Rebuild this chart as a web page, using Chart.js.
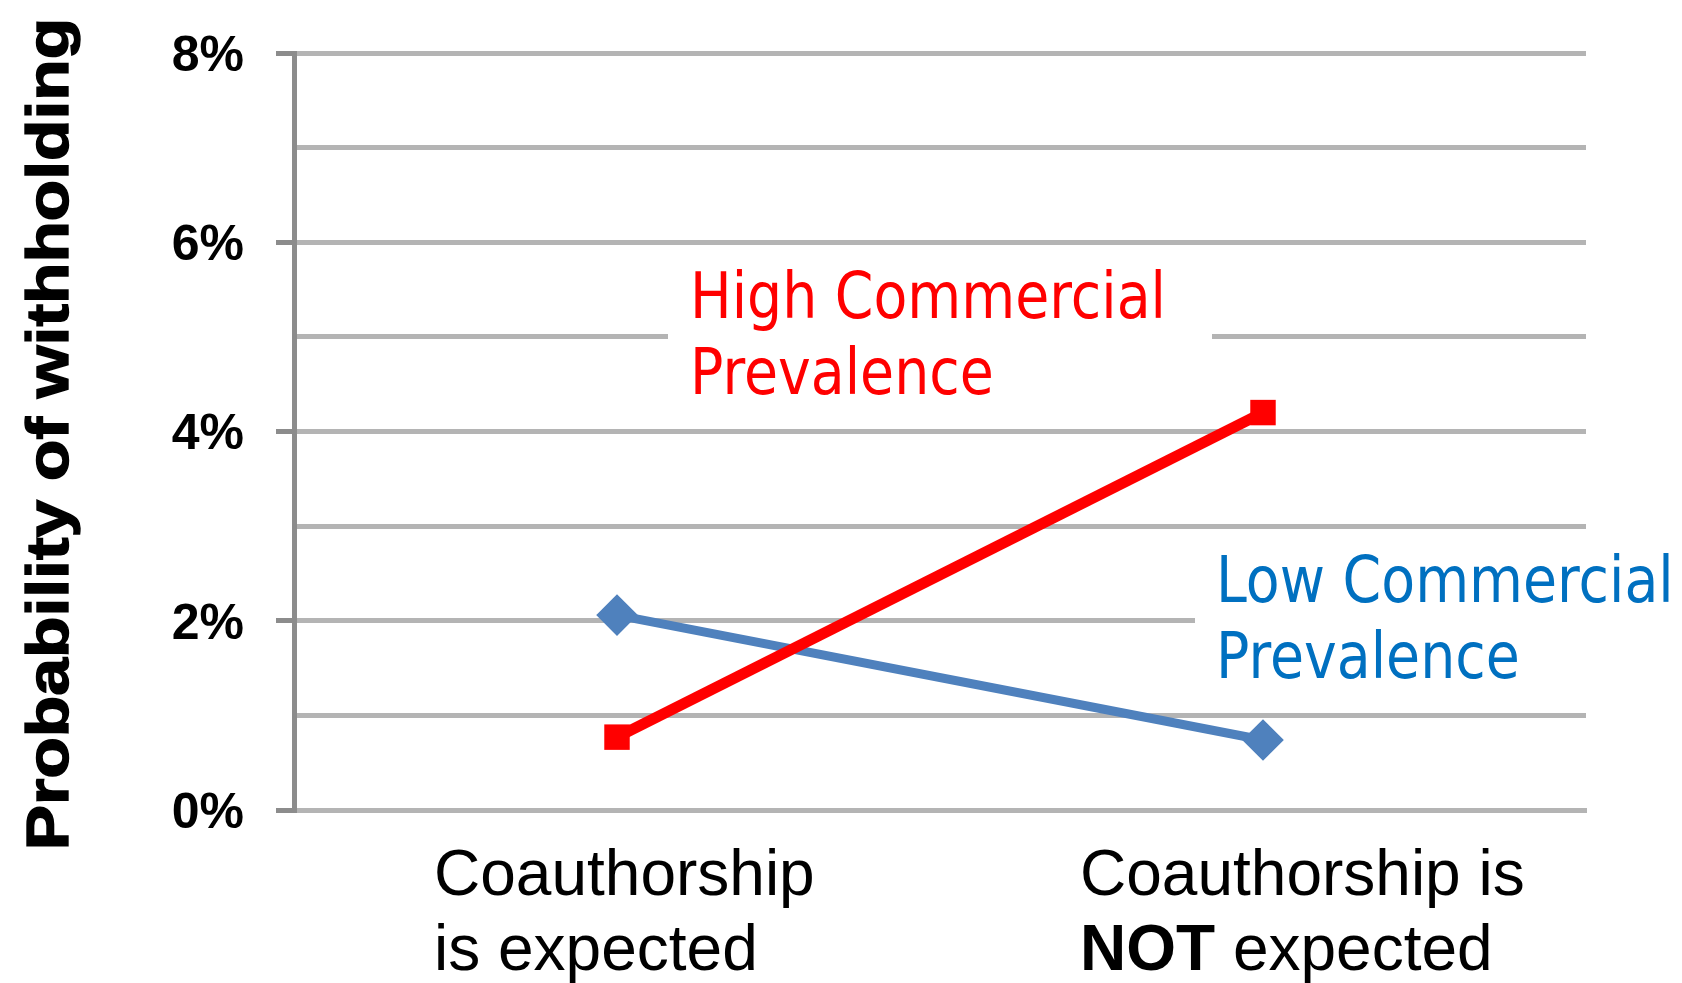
<!DOCTYPE html>
<html>
<head>
<meta charset="utf-8">
<script src="https://cdn.jsdelivr.net/npm/chart.js@4/dist/chart.umd.min.js"></script>
<style>
  html, body { margin: 0; padding: 0; background: #fff; }
  #wrap { width: 1682px; height: 983px; position: relative; }
</style>
</head>
<body>
<div id="wrap"><canvas id="withholdingChart"></canvas></div>
<script>
// categories, each split into the lines shown under the axis
const categories = ["Coauthorship is expected", "Coauthorship is NOT expected"];
const categoryLines = [["Coauthorship", "is expected"], ["Coauthorship is", "NOT expected"]];
const boldWords = ["NOT"];

// probability of withholding, in percent
const highCommercial = [0.77, 4.2];
const lowCommercial = [2.06, 0.74];

const yLabelValues = [0, 2, 4, 6, 8];
const yTitle = "Probability of withholding";
const highLabel = ["High Commercial", "Prevalence"];
const lowLabel = ["Low Commercial", "Prevalence"];

const GRID = "#b4b4b4";
const AXIS = "#8c8c8c";

// white boxes with the series names, painted over the grid
const seriesNotes = {
  id: "seriesNotes",
  beforeDatasetsDraw(chart) {
    const ctx = chart.ctx;
    ctx.save();
    ctx.fillStyle = "#ffffff";
    ctx.fillRect(668, 245, 544, 178);
    ctx.fillRect(1195, 529, 487, 177);
    ctx.restore();
  },
  afterDraw(chart) {
    const ctx = chart.ctx;
    const note = (lines, x, y, color) => {
      ctx.save();
      ctx.translate(x, y);
      ctx.scale(0.865, 1);
      ctx.font = '64px "DejaVu Sans"';
      ctx.fillStyle = color;
      ctx.textAlign = "left";
      ctx.textBaseline = "alphabetic";
      lines.forEach((line, i) => ctx.fillText(line, 0, i * 76));
      ctx.restore();
    };
    note(highLabel, 690, 318, "#ff0000");
    note(lowLabel, 1216, 602, "#0070c0");

    // y title, stretched along its length
    ctx.save();
    ctx.translate(68, 434);
    ctx.rotate(-Math.PI / 2);
    ctx.scale(1.13, 1);
    ctx.font = 'bold 60px "Liberation Sans"';
    ctx.fillStyle = "#000";
    ctx.strokeStyle = "#000";
    ctx.lineWidth = 1.4;
    ctx.textAlign = "center";
    ctx.textBaseline = "alphabetic";
    ctx.fillText(yTitle, 0, 0);
    ctx.strokeText(yTitle, 0, 0);
    ctx.restore();
  },
};

// category labels: left-aligned lines, some words in bold
const categoryText = {
  id: "categoryText",
  afterDraw(chart) {
    const ctx = chart.ctx;
    const xScale = chart.scales.x;
    ctx.save();
    ctx.fillStyle = "#000";
    ctx.textBaseline = "alphabetic";
    ctx.textAlign = "left";
    categoryLines.forEach((lines, i) => {
      const left = xScale.getPixelForValue(i) - 183;
      lines.forEach((line, j) => {
        let x = left;
        const y = 895 + j * 75;
        line.split(" ").forEach((word, k, words) => {
          const bold = boldWords.includes(word);
          ctx.font = (bold ? "bold " : "") + '64px "Liberation Sans"';
          const text = k < words.length - 1 ? word + " " : word;
          ctx.fillText(text, x, y);
          x += ctx.measureText(text).width;
        });
      });
    });
    ctx.restore();
  },
};

const ctx = document.getElementById("withholdingChart").getContext("2d");

new Chart(ctx, {
  type: "line",
  data: {
    labels: categories,
    datasets: [
      {
        label: highLabel.join(" "),
        data: highCommercial,
        borderColor: "#ff0000",
        backgroundColor: "#ff0000",
        borderWidth: 11,
        pointStyle: "rect",
        pointRadius: 18,
        pointBorderWidth: 0,
        pointBackgroundColor: "#ff0000",
        tension: 0,
      },
      {
        label: lowLabel.join(" "),
        data: lowCommercial,
        borderColor: "#4f81bd",
        backgroundColor: "#4f81bd",
        borderWidth: 9,
        pointStyle: "rectRot",
        pointRadius: 18,
        pointBorderWidth: 4,
        pointBorderColor: "#4f81bd",
        pointBackgroundColor: "#4f81bd",
        tension: 0,
      },
    ],
  },
  options: {
    responsive: true,
    maintainAspectRatio: false,
    animation: false,
    layout: {
      padding: { left: 0, top: 53, right: 96, bottom: 0 },
    },
    plugins: {
      legend: { display: false },
      tooltip: { enabled: false },
    },
    scales: {
      x: {
        offset: true,
        afterFit: (scale) => {
          scale.height = 173;
        },
        grid: { display: false },
        border: { color: GRID, width: 5 },
        ticks: { display: false },
      },
      y: {
        min: 0,
        max: 8,
        afterFit: (scale) => {
          scale.width = 294;
          scale.paddingTop = 0;
          scale.paddingBottom = 0;
        },
        border: { color: AXIS, width: 5 },
        grid: {
          color: GRID,
          lineWidth: 5,
          tickLength: 18,
          tickWidth: 5,
          tickColor: (c) => (c.tick && yLabelValues.includes(c.tick.value) ? AXIS : "rgba(0,0,0,0)"),
        },
        ticks: {
          stepSize: 1,
          padding: 32,
          labelOffset: 4,
          color: "#000",
          font: { family: "Liberation Sans", weight: "bold", size: 50 },
          callback: (v) => (yLabelValues.includes(v) ? v + "%" : ""),
        },
      },
    },
  },
  plugins: [seriesNotes, categoryText],
});
</script>
</body>
</html>
